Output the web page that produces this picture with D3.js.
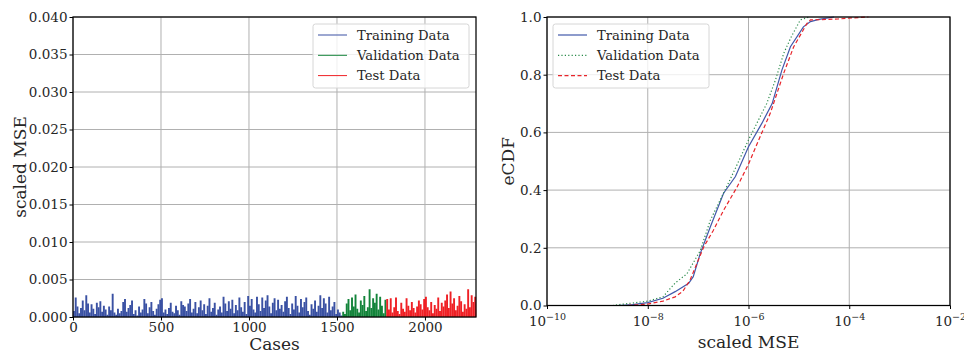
<!DOCTYPE html>
<html>
<head>
<meta charset="utf-8">
<script src="https://cdn.jsdelivr.net/npm/d3@7"></script>
<style>
  body { margin: 0; background: #fff; }
  svg text { font-family: "DejaVu Serif", serif; fill: #262626; }
</style>
</head>
<body>
<svg id="chart" width="964" height="354"></svg>
<script>
// scaled MSE per case, in units of 1e-4, one value per block of 10 cases
var UNIT = 1e-4;
var BLOCK = 10;
var trainStart = 0, valStart = 1530, testStart = 1780, nCases = 2290;
var trainMSE = [8, 26, 14, 5, 12, 22, 9, 29, 18, 6,
  17, 11, 4, 19, 13, 21, 7, 15, 10, 3,
  14, 9, 31, 6, 3, 11, 5, 8, 20, 24,
  7, 12, 16, 22, 4, 9, 2, 14, 6, 10,
  24, 18, 5, 13, 20, 8, 3, 11, 17, 23,
  25, 6, 10, 4, 12, 19, 7, 5, 15, 9,
  3, 21, 16, 14, 8, 18, 24, 6, 11, 20,
  5, 13, 22, 9, 17, 4, 15, 25, 7, 12,
  19, 3, 10, 14, 6, 27, 18, 8, 21, 11,
  23, 5, 16, 9, 26, 13, 7, 20, 4, 28,
  15, 24, 10, 6, 27, 17, 8, 26, 12, 22,
  29, 14, 5, 19, 25, 9, 23, 11, 16, 7,
  21, 27, 12, 4, 18, 10, 28, 15, 6, 24,
  13, 20, 26, 8, 3, 17, 11, 22, 7, 15,
  29, 12, 25, 18, 6, 27, 9, 14, 20, 4,
  10, 6, 2];
var valMSE = [7, 4, 18, 24, 9, 26, 14, 30, 11, 6, 22, 16, 28, 8, 13, 37, 12, 25, 19, 31, 10, 27, 15, 5, 23];
var testMSE = [24, 10, 25, 6, 13, 26, 8, 4, 19, 11, 7, 25, 15, 9, 20, 12, 6, 14, 22, 17,
  10, 24, 27, 13, 9, 20, 5, 16, 11, 26, 8, 19, 14, 22, 30, 12, 34, 18, 25, 9,
  15, 28, 21, 7, 17, 11, 37, 13, 29, 20, 27, 10];

// eCDF points: [scaled MSE, fraction]
var trainCDF = [[2.5e-9, 0], [5e-9, 0.003], [1e-8, 0.01], [2e-8, 0.025], [3.5e-8, 0.048], [6.5e-8, 0.077],
  [8e-8, 0.1], [1.1e-7, 0.18], [1.75e-7, 0.273], [3.2e-7, 0.389], [5.5e-7, 0.447], [1e-6, 0.55],
  [1.85e-6, 0.632], [2.95e-6, 0.7], [4.6e-6, 0.816], [6.8e-6, 0.897], [1.23e-5, 0.966], [1.7e-5, 0.984],
  [2.5e-5, 0.992], [5e-5, 1.0]];
var valCDF = [[2e-9, 0], [3e-9, 0.004], [1e-8, 0.015], [2e-8, 0.03], [3.5e-8, 0.078], [6e-8, 0.11],
  [1.1e-7, 0.19], [1.75e-7, 0.296], [3.7e-7, 0.412], [6e-7, 0.49], [1e-6, 0.574], [2.3e-6, 0.7],
  [3.4e-6, 0.78], [5e-6, 0.874], [7e-6, 0.93], [1.07e-5, 0.99], [1.6e-5, 1.0]];
var testCDF = [[4e-9, 0], [1e-8, 0.005], [2e-8, 0.015], [3.5e-8, 0.03], [5e-8, 0.05], [6.9e-8, 0.088],
  [1.3e-7, 0.204], [2e-7, 0.26], [3.2e-7, 0.33], [5.9e-7, 0.41], [1e-6, 0.49], [1.7e-6, 0.585],
  [2.7e-6, 0.666], [5e-6, 0.805], [7.9e-6, 0.897], [1.45e-5, 0.978], [1.7e-5, 0.99], [6e-5, 0.993],
  [1.2e-4, 0.997], [2.4e-4, 1.0]];

var seriesNames = ["Training Data", "Validation Data", "Test Data"];
var barColors = ["#3a51a3", "#13843a", "#ef2025"];
var lineColors = ["#4158aa", "#2a8a4a", "#e8242a"];
var dashes = [null, "1.2,2.2", "4,2.5"];
var leftYTicks = [0, 0.005, 0.01, 0.015, 0.02, 0.025, 0.03, 0.035, 0.04];
var leftXTicks = [0, 500, 1000, 1500, 2000];
var rightXTicks = [1e-10, 1e-8, 1e-6, 1e-4, 1e-2];
var rightYTicks = [0, 0.2, 0.4, 0.6, 0.8, 1.0];

var svg = d3.select("#chart");
var grid = "#b0b0b0";

// ---------- left: scaled MSE per case ----------
var L = {x0: 73, x1: 476, y0: 17, y1: 317};
var xL = d3.scaleLinear().domain([0, nCases]).range([L.x0, L.x1]);
var yL = d3.scaleLinear().domain([0, 0.04]).range([L.y1, L.y0]);
var gl = svg.append("g");

gl.selectAll(".gx").data(leftXTicks).enter().append("line")
  .attr("x1", function(d) { return xL(d); }).attr("x2", function(d) { return xL(d); })
  .attr("y1", L.y0).attr("y2", L.y1).attr("stroke", grid).attr("stroke-width", 1);
gl.selectAll(".gy").data(leftYTicks).enter().append("line")
  .attr("x1", L.x0).attr("x2", L.x1)
  .attr("y1", function(d) { return yL(d); }).attr("y2", function(d) { return yL(d); })
  .attr("stroke", grid).attr("stroke-width", 1);

var blocks = [];
[[trainMSE, trainStart], [valMSE, valStart], [testMSE, testStart]].forEach(function(s, k) {
  s[0].forEach(function(v, i) {
    blocks.push({k: k, c: s[1] + i * BLOCK, v: v * UNIT});
  });
});
gl.append("g").selectAll("rect").data(blocks).enter().append("rect")
  .attr("x", function(d) { return xL(d.c); })
  .attr("width", function(d) { return xL(Math.min(d.c + BLOCK, nCases)) - xL(d.c) + 0.15; })
  .attr("y", function(d) { return yL(d.v); })
  .attr("height", function(d) { return yL(0) - yL(d.v); })
  .attr("fill", function(d) { return barColors[d.k]; });

gl.append("g").attr("transform", "translate(0," + L.y1 + ")")
  .call(d3.axisBottom(xL).tickValues(leftXTicks).tickSize(3.5).tickPadding(2).tickFormat(d3.format("d")))
  .call(styleAxis);
gl.append("g").attr("transform", "translate(" + L.x0 + ",0)")
  .call(d3.axisLeft(yL).tickValues(leftYTicks).tickSize(3.5).tickPadding(2).tickFormat(d3.format(".3f")))
  .call(styleAxis);
frame(gl, L);

gl.append("text").attr("x", (L.x0 + L.x1) / 2).attr("y", 350).attr("text-anchor", "middle")
  .attr("font-size", 17).text("Cases");
gl.append("text").attr("transform", "translate(26," + (L.y0 + L.y1) / 2 + ") rotate(-90)")
  .attr("text-anchor", "middle").attr("font-size", 17).text("scaled MSE");

legend(gl, 313, 24, barColors, [null, null, null], 1);

// ---------- right: eCDF ----------
var R = {x0: 547, x1: 950, y0: 17, y1: 305.5};
var xR = d3.scaleLog().domain([1e-10, 1e-2]).range([R.x0, R.x1]);
var yR = d3.scaleLinear().domain([0, 1]).range([R.y1, R.y0]);
var gr = svg.append("g");

gr.selectAll(".gx").data(rightXTicks).enter().append("line")
  .attr("x1", function(d) { return xR(d); }).attr("x2", function(d) { return xR(d); })
  .attr("y1", R.y0).attr("y2", R.y1).attr("stroke", grid).attr("stroke-width", 1);
gr.selectAll(".gy").data(rightYTicks).enter().append("line")
  .attr("x1", R.x0).attr("x2", R.x1)
  .attr("y1", function(d) { return yR(d); }).attr("y2", function(d) { return yR(d); })
  .attr("stroke", grid).attr("stroke-width", 1);

var line = d3.line().x(function(d) { return xR(d[0]); }).y(function(d) { return yR(d[1]); });
[trainCDF, valCDF, testCDF].forEach(function(s, k) {
  gr.append("path").datum(s).attr("d", line).attr("fill", "none")
    .attr("stroke", lineColors[k]).attr("stroke-width", 1.2)
    .attr("stroke-dasharray", dashes[k]);
});

var axX = gr.append("g").attr("transform", "translate(0," + R.y1 + ")")
  .call(d3.axisBottom(xR).tickValues(rightXTicks).tickSize(3.5).tickPadding(2).tickFormat(""))
  .call(styleAxis);
axX.selectAll(".tick").each(function(d) {
  var t = d3.select(this).append("text").attr("y", 20).attr("text-anchor", "middle")
    .attr("font-size", 13.5).attr("fill", "#262626");
  t.append("tspan").text("10");
  t.append("tspan").attr("dy", -6).attr("font-size", 9.5).text("\u2212" + Math.round(-Math.log10(d)));
});
gr.append("g").attr("transform", "translate(" + R.x0 + ",0)")
  .call(d3.axisLeft(yR).tickValues(rightYTicks).tickSize(3.5).tickPadding(2).tickFormat(d3.format(".1f")))
  .call(styleAxis);
frame(gr, R);

gr.append("text").attr("x", (R.x0 + R.x1) / 2).attr("y", 348).attr("text-anchor", "middle")
  .attr("font-size", 17).text("scaled MSE");
gr.append("text").attr("transform", "translate(514," + (R.y0 + R.y1) / 2 + ") rotate(-90)")
  .attr("text-anchor", "middle").attr("font-size", 17).text("eCDF");

legend(gr, 553, 24, lineColors, dashes, 1.2);

function styleAxis(g) {
  g.select(".domain").remove();
  g.selectAll(".tick line").attr("stroke", "#000").attr("stroke-width", 1);
  g.selectAll(".tick text").attr("font-size", 13.5).attr("fill", "#262626")
    .attr("font-family", "DejaVu Serif");
}

function frame(g, b) {
  g.append("rect").attr("x", b.x0).attr("y", b.y0).attr("width", b.x1 - b.x0).attr("height", b.y1 - b.y0)
    .attr("fill", "none").attr("stroke", "#000").attr("stroke-width", 1.25);
}

function legend(g, x, y, colors, dash, sw) {
  var lg = g.append("g").attr("transform", "translate(" + x + "," + y + ")");
  lg.append("rect").attr("width", 156).attr("height", 64).attr("rx", 2.5)
    .attr("fill", "#fff").attr("fill-opacity", 0.8).attr("stroke", "#d6d6d6").attr("stroke-width", 1);
  var row = lg.selectAll(".row").data(seriesNames).enter().append("g")
    .attr("transform", function(d, i) { return "translate(0," + (11 + i * 20.3) + ")"; });
  row.append("line").attr("x1", 5).attr("x2", 34).attr("y1", 0).attr("y2", 0)
    .attr("stroke", function(d, i) { return colors[i]; }).attr("stroke-width", sw)
    .attr("stroke-dasharray", function(d, i) { return dash[i]; });
  row.append("text").attr("x", 44).attr("y", 4.6).attr("font-size", 13.2).text(function(d) { return d; });
}
</script>
</body>
</html>
